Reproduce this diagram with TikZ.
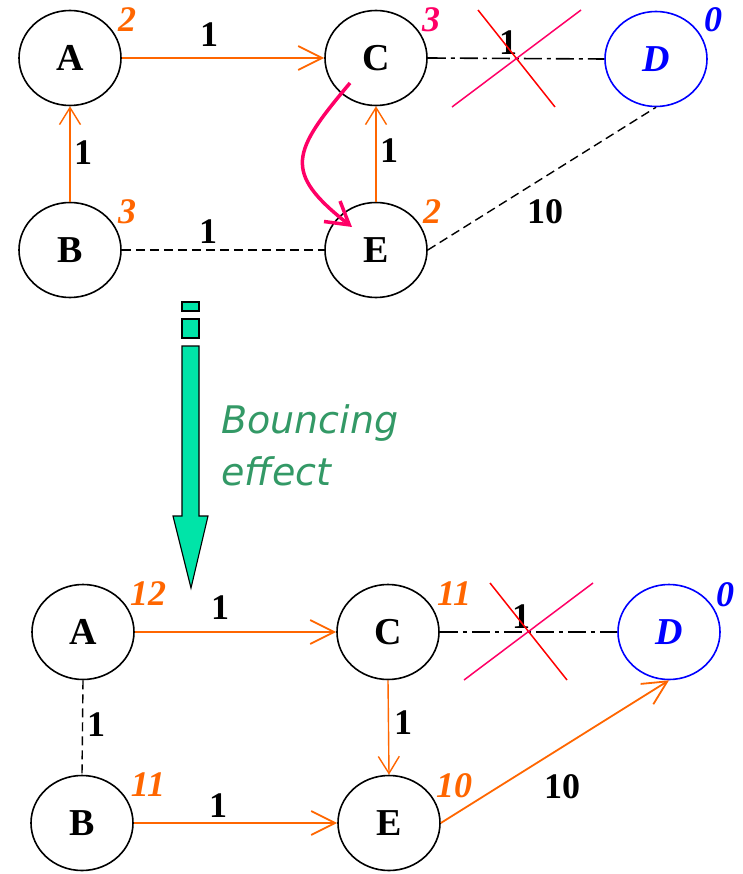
\documentclass[tikz,border=0pt]{standalone}
\usepackage{fontspec}
\setmainfont{Liberation Serif}
\newfontfamily\notefont{DejaVu Sans}
\usetikzlibrary{arrows.meta,shapes.geometric}
\definecolor{routeorange}{RGB}{255,102,0}
\definecolor{crosspink}{RGB}{255,0,102}
\definecolor{destblue}{RGB}{0,0,255}
\definecolor{bouncegreen}{RGB}{0,228,168}
\definecolor{notegreen}{RGB}{51,153,102}
\tikzset{
  router/.style={
    draw=black,
    ellipse,
    line width=1.6pt,
    minimum width=102pt,
    minimum height=95pt,
    inner sep=0pt,
    font=\fontsize{38}{38}\selectfont\bfseries
  },
  dest/.style={router, draw=destblue, text=destblue, font=\fontsize{38}{38}\selectfont\bfseries\itshape},
  cost/.style={inner sep=0pt, font=\fontsize{36}{36}\selectfont\bfseries},
  dist/.style={inner sep=0pt, text=routeorange, font=\fontsize{36}{36}\selectfont\bfseries\itshape},
  route/.style={draw=routeorange, line width=1.8pt, -{Straight Barb[length=24pt,width=24pt]}},
  uproute/.style={draw=routeorange, line width=1.4pt, -{Straight Barb[length=17pt,width=21pt]}},
  link/.style={draw=black, line width=1.4pt, dash pattern=on 9pt off 5pt},
  brokenlink/.style={draw=black, line width=1.6pt, dash pattern=on 18pt off 5pt on 4pt off 5pt},
  cross/.style={line width=1.5pt}
}
\begin{document}
\begin{tikzpicture}[x=1pt,y=-1pt]
  \useasboundingbox (0,0) rectangle (743,874);
  % before
  \node[router] (a1) at (70,58) {A};
  \node[router] (c1) at (376,58) {C};
  \node[dest] (d1) at (656,59) {D};
  \node[router] (b1) at (70,250) {B};
  \node[router] (e1) at (376,250) {E};
  \node[dist] (da1) at (127,20) {2};
  \node[dist, text=crosspink] (dc1) at (431,20) {3};
  \node[dist, text=destblue] (dd1) at (713,20) {0};
  \node[dist] (db1) at (127,212) {3};
  \node[dist] (de1) at (432,212) {2};
  \draw[route] (a1.east) -- (c1.west);
  \draw[brokenlink] (c1.east) -- (d1.west);
  \draw[uproute] (b1.north) -- (a1.south);
  \draw[uproute] (e1.north) -- (c1.south);
  \draw[link] (b1.east) -- (e1.west);
  \draw[link] (e1.east) -- (d1.south);
  \node[cost] (wac1) at (209,35) {1};
  \node[cost] (wcd1) at (508,43) {1};
  \node[cost] (wab1) at (83,153) {1};
  \node[cost] (wce1) at (389,151) {1};
  \node[cost] (wbe1) at (208,232) {1};
  \node[cost] (wed1) at (545,212) {10};
  \draw[cross, red] (478,10) -- (555,107);
  \draw[cross, crosspink] (452,107) -- (581,10);
  \draw[crosspink, line width=3.5pt, -{Straight Barb[length=22pt,width=26pt]}]
    (350,83) .. controls (292,152) and (282,172) .. (352,227);
  % bouncing arrow
  \draw[line width=1.1pt, fill=bouncegreen] (182,302) rectangle (199,311);
  \draw[line width=1.1pt, fill=bouncegreen] (182,319) rectangle (199,338);
  \draw[line width=1.1pt, fill=bouncegreen, line join=miter]
    (182,346) -- (199,346) -- (199,516) -- (208,516) -- (191,588) -- (173,516) -- (182,516) -- cycle;
  \node[anchor=base west, inner sep=0pt, align=left, text=notegreen,
    font=\notefont\itshape\fontsize{38}{52}\selectfont] (note) at (221,485) {Bouncing\\effect};
  % after
  \node[router] (a2) at (83,632) {A};
  \node[router] (c2) at (388,632) {C};
  \node[dest] (d2) at (669,632) {D};
  \node[router] (b2) at (82,823) {B};
  \node[router] (e2) at (389,823) {E};
  \node[dist] (da2) at (148,594) {12};
  \node[dist] (dc2) at (454,594) {11};
  \node[dist, text=destblue] (dd2) at (725,595) {0};
  \node[dist] (db2) at (148,785) {11};
  \node[dist] (de2) at (454,786) {10};
  \draw[route] (a2.east) -- (c2.west);
  \draw[brokenlink] (c2.east) -- (d2.west);
  \draw[link] (a2.south) -- (b2.north);
  \draw[uproute] (c2.south) -- (e2.north);
  \draw[route] (b2.east) -- (e2.west);
  \draw[route] (e2.east) -- (d2.south);
  \node[cost] (wac2) at (220,608) {1};
  \node[cost] (wcd2) at (521,617) {1};
  \node[cost] (wab2) at (96,725) {1};
  \node[cost] (wce2) at (403,723) {1};
  \node[cost] (wbe2) at (218,806) {1};
  \node[cost] (wed2) at (562,787) {10};
  \draw[cross, red] (490,583) -- (567,680);
  \draw[cross, crosspink] (464,680) -- (593,583);
\end{tikzpicture}
\end{document}
